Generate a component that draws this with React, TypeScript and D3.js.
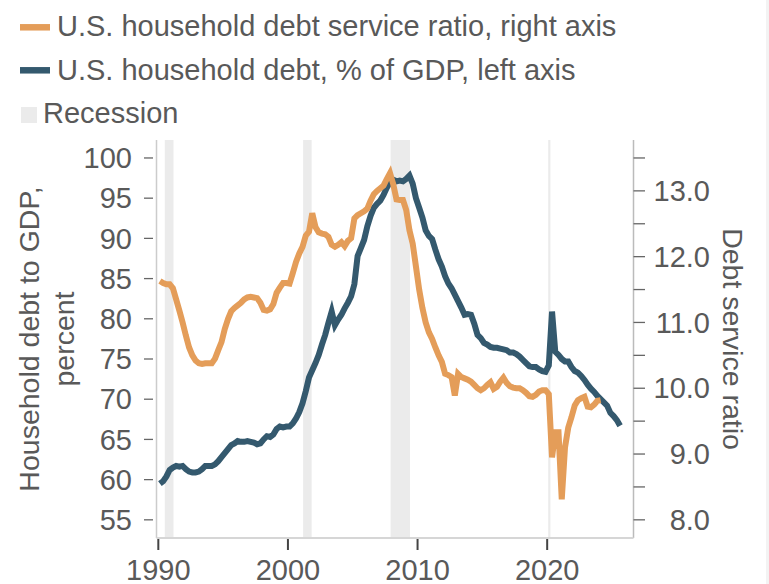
import React from "react";
import * as d3 from "d3";

// ---------- DATA ----------
const startYear = 1990; // quarterly series start at 1990 Q1

// U.S. household debt, % of GDP (left axis), 1990Q1 .. 2025Q3
const debtToGdp: number[] = [
  59.5, 59.8, 60.4, 61.2,
  61.5, 61.7, 61.6, 61.7,
  61.3, 61.0, 60.9, 60.9,
  61.0, 61.3, 61.7, 61.7,
  61.7, 61.9, 62.3, 62.8,
  63.3, 63.8, 64.3, 64.5,
  64.8, 64.7, 64.7, 64.8,
  64.7, 64.6, 64.4, 64.5,
  65.0, 65.4, 65.3, 65.6,
  66.3, 66.6, 66.5, 66.6,
  66.6, 67.0, 67.6, 68.4,
  69.5, 71.0, 72.7, 73.6,
  74.5, 75.5, 76.8, 78.0,
  79.5, 80.9, 79.2, 79.9,
  80.5, 81.3, 82.0, 82.8,
  84.3, 87.8, 88.8, 89.8,
  91.5, 92.8, 93.8, 94.3,
  94.7, 95.4, 96.3, 97.0,
  97.3, 97.1, 97.2, 97.1,
  97.4, 97.8, 96.8, 95.0,
  93.8, 92.6, 91.0, 90.3,
  89.9, 88.6, 87.4, 86.5,
  85.3, 84.4, 83.8, 83.0,
  82.2, 81.4, 80.5, 80.6,
  80.5, 79.4, 78.0, 77.6,
  77.0, 76.8, 76.5, 76.4,
  76.4, 76.3, 76.2, 76.1,
  75.8, 75.8, 75.6, 75.3,
  74.9, 74.5, 74.1, 74.0,
  74.0, 73.7, 73.5, 73.4,
  74.2, 80.9, 75.9, 75.5,
  75.0, 74.7, 74.7, 74.0,
  73.5, 73.3, 72.9, 72.4,
  71.8, 71.3, 70.9, 70.4,
  70.0, 69.6, 69.2, 68.3,
  67.9, 67.4, 66.7,
];

// U.S. household debt service ratio (right axis), 1990Q1 .. 2024Q1
const debtServiceRatio: number[] = [
  11.63, 11.60, 11.58, 11.58,
  11.52, 11.35, 11.18, 11.00,
  10.80, 10.62, 10.50, 10.42,
  10.38, 10.37, 10.38, 10.38,
  10.38, 10.45, 10.58, 10.70,
  10.90, 11.05, 11.17, 11.22,
  11.26, 11.30, 11.35, 11.38,
  11.39, 11.38, 11.37, 11.30,
  11.19, 11.18, 11.20, 11.28,
  11.45, 11.53, 11.60, 11.60,
  11.59, 11.75, 11.92, 12.05,
  12.15, 12.32, 12.38, 12.66,
  12.45, 12.37, 12.35, 12.34,
  12.30, 12.18, 12.15, 12.18,
  12.22, 12.16, 12.24, 12.28,
  12.58, 12.63, 12.66, 12.69,
  12.73, 12.85, 12.95, 13.00,
  13.04, 13.08, 13.18, 13.27,
  13.10, 12.87, 12.86, 12.86,
  12.71, 12.40, 12.20, 11.85,
  11.50, 11.22, 11.00, 10.85,
  10.75, 10.62, 10.50, 10.40,
  10.22, 10.20, 10.17, 9.89,
  10.22, 10.17, 10.15, 10.13,
  10.10, 10.05, 10.00, 9.97,
  10.00, 10.05, 10.09, 9.99,
  10.02, 10.10, 10.16, 10.08,
  10.03, 10.01, 10.00, 10.00,
  9.97, 9.93, 9.88, 9.87,
  9.90, 9.95, 9.97, 9.97,
  9.91, 8.95, 9.33, 9.33,
  8.31, 9.10, 9.40, 9.56,
  9.74, 9.82, 9.85, 9.87,
  9.72, 9.71, 9.75, 9.81,
  9.82,
];

// NBER recessions (decimal years)
const recessionStart = [1990.5, 2001.17, 2007.92, 2020.08];
const recessionEnd = [1991.17, 2001.83, 2009.42, 2020.25];

const xTicks = [1990, 2000, 2010, 2020];
const leftTicks = [55, 60, 65, 70, 75, 80, 85, 90, 95, 100];
const rightLabelTicks = [8, 9, 10, 11, 12, 13];
const rightMinorTicks = [8, 8.5, 9, 9.5, 10, 10.5, 11, 11.5, 12, 12.5, 13, 13.5];

const legendItems = [
  "U.S. household debt service ratio, right axis",
  "U.S. household debt, % of GDP, left axis",
  "Recession",
];

// ---------- STYLE ----------
const W = 769;
const H = 584;
const ORANGE = "#E49D59";
const BLUE = "#34596E";
const TEXT = "#595959";
const FONT = "'Liberation Sans', Arial, Helvetica, sans-serif";

const plotLeft = 156.5;
const plotRight = 633.5;
const plotTop = 140;
const plotBottom = 538;

export default function App() {
  const x = d3.scaleLinear().domain([1989.86, 2026.66]).range([plotLeft, plotRight]);
  const yL = d3.scaleLinear().domain([52.74, 102.11]).range([plotBottom, plotTop + 1]);
  const rOf = (l: number) => 8 + ((l - 55) * 5.5) / 45;
  const yR = d3.scaleLinear().domain([rOf(52.74), rOf(102.11)]).range([plotBottom, plotTop + 1]);

  const qDate = (i: number) => startYear + i / 4 + 0.125;

  const debtLine = d3
    .line<number>()
    .x((_, i) => x(qDate(i)))
    .y((d) => yL(d));
  const dsrLine = d3
    .line<number>()
    .x((_, i) => x(qDate(i)))
    .y((d) => yR(d));

  const tickFs = 29;
  const legendFs = 29;
  const titleFs = 28.5;
  const midY = (plotTop + plotBottom) / 2;

  return (
    <svg
      width={W}
      height={H}
      style={{ position: "absolute", left: 0, top: 0, background: "#fff" }}
      fontFamily={FONT}
    >
      <rect x={0} y={0} width={W} height={H} fill="#fff" />
      <rect x={766} y={0} width={3} height={H} fill="#f3f3f3" />

      {/* Legend */}
      <line x1={20} x2={50} y1={27.3} y2={27.3} stroke={ORANGE} strokeWidth={6.5} />
      <text x={57} y={36} fontSize={legendFs} fill={TEXT}>{legendItems[0]}</text>
      <line x1={20} x2={50} y1={70.3} y2={70.3} stroke={BLUE} strokeWidth={6.5} />
      <text x={57} y={80} fontSize={legendFs} fill={TEXT}>{legendItems[1]}</text>
      <rect x={21} y={107} width={16} height={16} fill="#ebebeb" />
      <text x={43} y={123} fontSize={legendFs} fill={TEXT}>{legendItems[2]}</text>

      {/* Recession bands */}
      {recessionStart.map((s, i) => (
        <rect
          key={i}
          x={x(s)}
          y={plotTop}
          width={Math.max(x(recessionEnd[i]) - x(s), 2)}
          height={plotBottom - plotTop}
          fill="#ebebeb"
        />
      ))}

      {/* Frame */}
      <line x1={plotLeft} x2={plotLeft} y1={plotTop} y2={plotBottom} stroke="#cccccc" strokeWidth={1.5} />
      <line x1={plotRight} x2={plotRight} y1={plotTop} y2={plotBottom} stroke="#bbbbbb" strokeWidth={1.5} />
      <line x1={plotLeft} x2={plotRight} y1={plotBottom} y2={plotBottom} stroke="#d6d6d6" strokeWidth={2} />

      {/* Left axis */}
      {leftTicks.map((t) => (
        <g key={t}>
          <line x1={144} x2={153} y1={yL(t)} y2={yL(t)} stroke="#666" strokeWidth={1.3} />
          <text x={132} y={yL(t)} dy="0.35em" textAnchor="end" fontSize={tickFs} fill={TEXT}>
            {t}
          </text>
        </g>
      ))}

      {/* Right axis */}
      {rightMinorTicks.map((t) => (
        <line key={t} x1={plotRight} x2={645} y1={yR(t)} y2={yR(t)} stroke="#666" strokeWidth={1.3} />
      ))}
      {rightLabelTicks.map((t) => (
        <text key={t} x={710} y={yR(t)} dy="0.35em" textAnchor="end" fontSize={tickFs} fill={TEXT}>
          {d3.format(".1f")(t)}
        </text>
      ))}

      {/* X axis */}
      {xTicks.map((t) => (
        <g key={t}>
          <line x1={x(t)} x2={x(t)} y1={539} y2={550} stroke="#444" strokeWidth={2} />
          <text x={x(t)} y={580} textAnchor="middle" fontSize={tickFs} fill={TEXT}>
            {t}
          </text>
        </g>
      ))}

      {/* Axis titles */}
      <text
        transform={`translate(38.5,${midY}) rotate(-90)`}
        textAnchor="middle"
        fontSize={titleFs}
        fill={TEXT}
      >
        Household debt to GDP,
      </text>
      <text
        transform={`translate(74,${midY}) rotate(-90)`}
        textAnchor="middle"
        fontSize={titleFs}
        fill={TEXT}
      >
        percent
      </text>
      <text
        transform={`translate(723,${midY}) rotate(90)`}
        textAnchor="middle"
        fontSize={titleFs}
        fill={TEXT}
      >
        Debt service ratio
      </text>

      {/* Series */}
      <path d={debtLine(debtToGdp) || ""} fill="none" stroke={BLUE} strokeWidth={6} />
      <path d={dsrLine(debtServiceRatio) || ""} fill="none" stroke={ORANGE} strokeWidth={6} />
    </svg>
  );
}
